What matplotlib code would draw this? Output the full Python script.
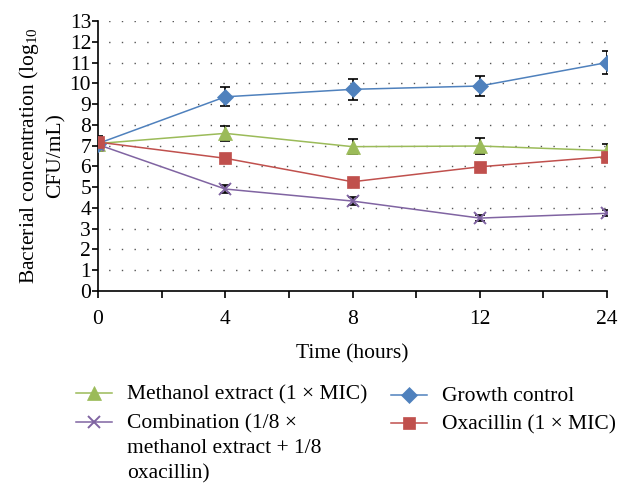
import matplotlib.pyplot as plt
from matplotlib.lines import Line2D
import numpy as np

plt.rcParams['font.family'] = ['Liberation Serif', 'DejaVu Serif']
plt.rcParams['mathtext.fontset'] = 'custom'
plt.rcParams['mathtext.rm'] = 'Liberation Serif'
plt.rcParams['mathtext.it'] = 'Liberation Serif:italic'

time_labels = ['0', '4', '8', '12', '24']

growth = [7.1, 9.35, 9.71, 9.87, 11.0]
growth_err = [0.35, 0.45, 0.5, 0.5, 0.55]
methanol = [7.1, 7.59, 6.95, 6.98, 6.76]
methanol_err = [0.25, 0.37, 0.35, 0.38, 0.33]
oxacillin = [7.17, 6.39, 5.26, 5.98, 6.47]
oxacillin_err = [0.15, 0.15, 0.15, 0.15, 0.15]
combination = [7.05, 4.91, 4.33, 3.51, 3.74]
combination_err = [0.15, 0.18, 0.2, 0.15, 0.15]

W, H = 632, 496
fig = plt.figure(figsize=(W / 100, H / 100), dpi=100)
ax = fig.add_axes([98 / W, 1 - 291 / H, 509 / W, 270 / H])

x = np.arange(len(time_labels))
fs = 15.5

# horizontal dotted grid
for yv in range(1, 14):
    ax.axhline(yv, color='#555555', lw=1.0, ls=(1.5, (1, 8.14)), zorder=0)

series = [
    (methanol, methanol_err, '#9BBB59', '^', 9.5, 'Methanol extract (1 × MIC)'),
    (combination, combination_err, '#8064A2', 'x', 8.5, 'Combination (1/8 ×\nmethanol extract + 1/8\noxacillin)'),
    (growth, growth_err, '#4F81BD', 'D', 8.0, 'Growth control'),
    (oxacillin, oxacillin_err, '#C0504D', 's', 9.0, 'Oxacillin (1 × MIC)'),
]

for vals, err, col, mk, ms, lab in series:
    ax.errorbar(x, vals, yerr=err, fmt='none', ecolor='black', elinewidth=1.2,
                capsize=3.5, capthick=1.2, zorder=2)
    ax.plot(x, vals, color=col, lw=1.1, marker=mk, markersize=ms,
            mew=1.4 if mk == 'x' else 0.5, mec=col, zorder=3)

ax.set_xlim(0, 4)
ax.set_ylim(0, 13)
ax.set_yticks(range(0, 14))
ax.set_xticks(x)
ax.set_xticklabels(time_labels)
ax.set_xticks(np.arange(0.5, 4, 1), minor=True)
ax.tick_params(axis='both', labelsize=fs, direction='out', color='black', width=1.2)
ax.tick_params(axis='x', which='both', length=5, width=1.2, pad=9)
ax.tick_params(axis='y', length=4, pad=1)
for s in ['top', 'right']:
    ax.spines[s].set_visible(False)
for s in ['left', 'bottom']:
    ax.spines[s].set_linewidth(1.2)

ax.set_xlabel('Time (hours)', fontsize=fs, labelpad=11)
ax.set_ylabel('Bacterial concentration (log$_{10}$\nCFU/mL)', fontsize=fs,
              linespacing=1.35, labelpad=3)

# legend drawn by hand: two columns, handle aligned to first text line
rows = [(76, 393), (76, 422), (391, 395), (391, 423)]
for (vals, err, col, mk, ms, lab), (px, py) in zip(series, rows):
    fy = 1 - py / H
    fig.add_artist(Line2D([px / W, (px + 36) / W], [fy, fy], color=col, lw=1.1,
                          transform=fig.transFigure))
    fig.add_artist(Line2D([(px + 18) / W], [fy], color=col, marker=mk, markersize=ms,
                          mew=1.4 if mk == 'x' else 0.5, mec=col, transform=fig.transFigure))
    fig.text((px + 51) / W, 1 - (py - 8) / H, lab, fontsize=fs, ha='left', va='top',
             linespacing=1.42)

fig.savefig('out.png', dpi=100)
